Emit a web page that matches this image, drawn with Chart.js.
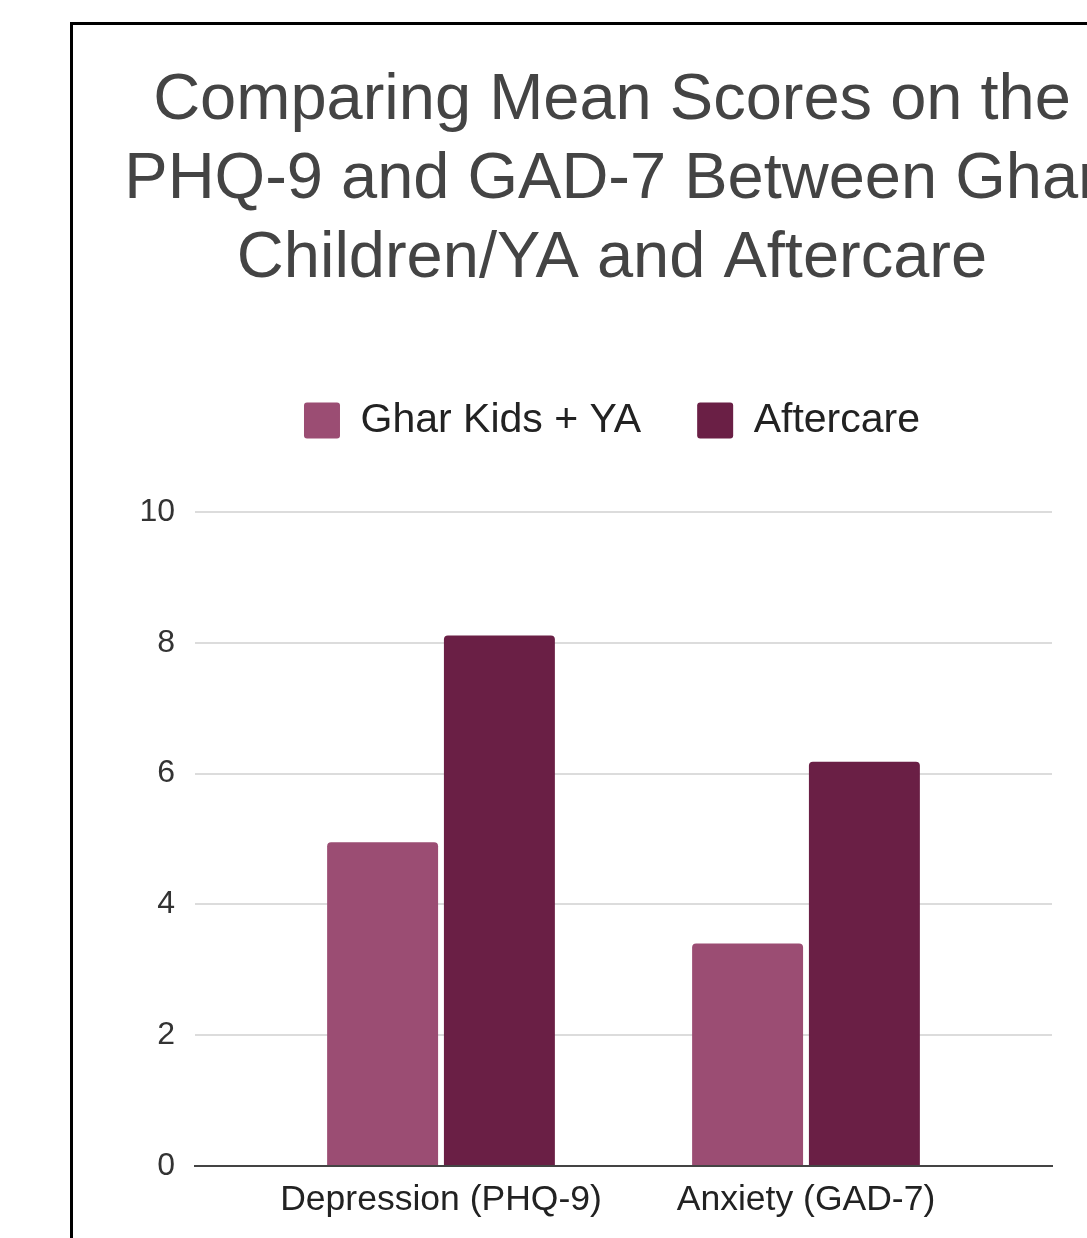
<!DOCTYPE html>
<html>
<head>
<meta charset="utf-8">
<script src="https://cdn.jsdelivr.net/npm/chart.js@4"></script>
<style>
  html, body { margin: 0; padding: 0; width: 1087px; height: 1238px; overflow: hidden; background: #fff; }
  #frame { position: absolute; left: 70px; top: 22px; width: 1200px; height: 1300px; border: 3px solid #000; box-sizing: border-box; background: #fff; }
  #c { position: absolute; left: 0; top: 0; }
</style>
</head>
<body>
<div id="frame"><canvas id="c" width="1078" height="1201"></canvas></div>
<script>
const titleLines = ['Comparing Mean Scores on the', 'PHQ-9 and GAD-7 Between Ghar', 'Children/YA and Aftercare'];
const categories = ['Depression (PHQ-9)', 'Anxiety (GAD-7)'];
const seriesNames = ['Ghar Kids + YA', 'Aftercare'];
const gharValues = [4.95, 3.40];
const aftercareValues = [8.11, 6.18];
const yTicks = [0, 2, 4, 6, 8, 10];

const FONT = "'Liberation Sans', Arial, sans-serif";

const legendGap = {
  id: 'legendGap',
  beforeInit(chart) {
    const orig = chart.legend.fit;
    chart.legend.fit = function () {
      orig.call(this);
      this.height += 61;
    };
  }
};

new Chart(document.getElementById('c'), {
  type: 'bar',
  data: {
    datasets: [
      {
        label: seriesNames[0],
        data: categories.map((c, i) => ({ x: i, y: gharValues[i] })),
        backgroundColor: '#9b4d73',
        borderRadius: { topLeft: 4, topRight: 4 },
        borderSkipped: 'bottom'
      },
      {
        label: seriesNames[1],
        data: categories.map((c, i) => ({ x: i, y: aftercareValues[i] })),
        backgroundColor: '#6a1f45',
        borderRadius: { topLeft: 4, topRight: 4 },
        borderSkipped: 'bottom'
      }
    ]
  },
  options: {
    responsive: false,
    animation: false,
    categoryPercentage: 0.64,
    barPercentage: 0.95,
    layout: { padding: { left: 0, right: 0, top: 0, bottom: 0 } },
    plugins: {
      title: {
        display: true,
        text: titleLines,
        color: '#444444',
        font: { family: FONT, size: 65, weight: 'normal', lineHeight: 1.22 },
        padding: { top: 36, bottom: 45 }
      },
      legend: {
        display: true,
        position: 'top',
        labels: {
          color: '#222222',
          font: { family: FONT, size: 41 },
          boxWidth: 36,
          boxHeight: 36,
          padding: 56,
          useBorderRadius: true,
          borderRadius: 3
        }
      },
      tooltip: { enabled: false }
    },
    scales: {
      x: {
        type: 'linear',
        offset: false,
        min: -0.674,
        max: 1.674,
        grid: { display: false, drawTicks: false, offset: false },
        border: { display: true, color: '#444444', width: 2 },
        afterBuildTicks: (s) => { s.ticks = categories.map((c, i) => ({ value: i })); },
        afterFit: (s) => { s.height = 60; },
        ticks: {
          color: '#222222',
          font: { family: FONT, size: 35.5 },
          padding: 13,
          maxRotation: 0,
          autoSkip: false,
          callback: (v) => categories[v]
        }
      },
      y: {
        position: 'left',
        min: 0,
        max: 10,
        grid: { color: '#dcdcdc', lineWidth: 2, drawTicks: false },
        border: { display: false },
        afterBuildTicks: (s) => { s.ticks = yTicks.map(v => ({ value: v })); },
        afterFit: (s) => { s.width = 122; },
        ticks: {
          color: '#333333',
          font: { family: FONT, size: 32 },
          padding: 20
        }
      },
      yRightSpace: {
        position: 'right',
        display: true,
        grid: { display: false, drawTicks: false },
        border: { display: false },
        ticks: { display: false },
        afterFit: (s) => { s.width = 99; }
      }
    }
  },
  plugins: [legendGap]
});
</script>
</body>
</html>
